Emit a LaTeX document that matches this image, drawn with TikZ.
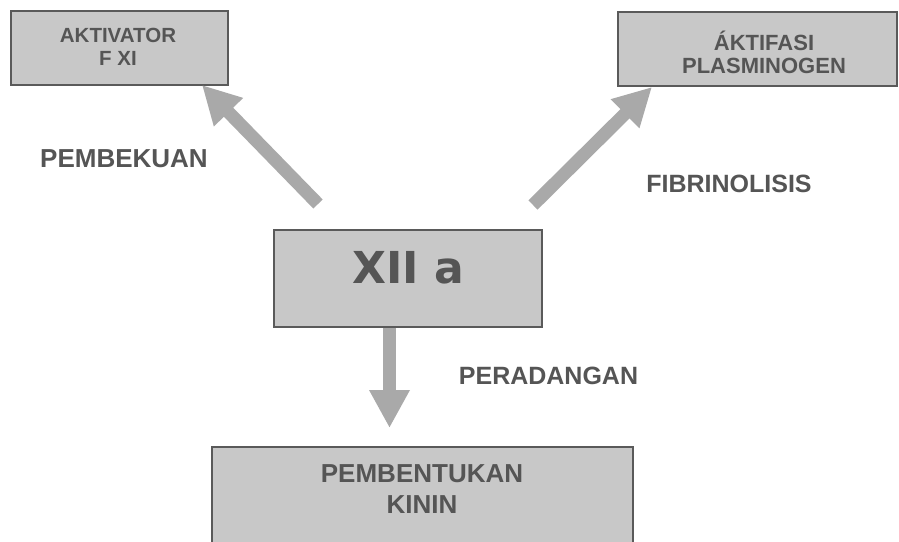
\documentclass[tikz,border=0pt]{standalone}
\usepackage{fontspec}
\setmainfont{Liberation Sans}
\newfontfamily\dvfont{DejaVu Sans}
\usetikzlibrary{arrows.meta}
\definecolor{boxfill}{HTML}{C8C8C8}
\definecolor{boxline}{HTML}{5A5A5A}
\definecolor{txt}{HTML}{555555}
\definecolor{arr}{HTML}{A9A9A9}
\tikzset{
  box/.style={draw=boxline, line width=1.5pt, fill=boxfill, inner sep=0pt},
  lbl/.style={text=txt, font=\bfseries\fontsize{26}{26}\selectfont, inner sep=0pt, anchor=base},
  boxtxt/.style={text=txt, align=center, inner sep=0pt},
  bigarrow/.style={draw=arr, line width=13pt, -{Triangle[width=38pt,length=38pt]}, shorten <=0pt}
}
\begin{document}
\begin{tikzpicture}[x=1pt,y=-1pt]
\useasboundingbox (0,0) rectangle (899,541);
\fill[white] (0,0) rectangle (899,541);
% boxes
\node[box, minimum width=217pt, minimum height=74pt] (fxi) at (119.5,48) {};
\node[boxtxt, font=\bfseries\fontsize{20.5}{23}\selectfont, anchor=base] (fxit) at (118,65) {AKTIVATOR\\F XI};
\node[box, minimum width=279pt, minimum height=74pt] (plas) at (757.5,49) {};
\node[boxtxt, font=\bfseries\fontsize{22}{23}\selectfont, anchor=base] (plast) at (764,73) {ÁKTIFASI\\PLASMINOGEN};
\node[box, minimum width=268pt, minimum height=97pt] (xii) at (408,278.5) {};
\node[text=txt, inner sep=0pt, anchor=base, font=\dvfont\bfseries\fontsize{44}{44}\selectfont] (xiit) at (408,283) {XII a};
\node[box, minimum width=421pt, minimum height=110pt] (kin) at (422.5,502) {};
\node[boxtxt, font=\bfseries\fontsize{26}{31}\selectfont, anchor=base] (kint) at (422,513) {PEMBENTUKAN\\KININ};
% labels
\node[lbl] (pemb) at (124,167) {PEMBEKUAN};
\node[lbl, font=\bfseries\fontsize{25}{25}\selectfont] (fibr) at (729,192) {FIBRINOLISIS};
\node[lbl, font=\bfseries\fontsize{25}{25}\selectfont] (pera) at (548.5,384) {PERADANGAN};
% arrows
\coordinate (a1s) at (318,204);
\coordinate (a1e) at (202,85);
\coordinate (a2s) at (533,205);
\coordinate (a2e) at (652,87);
\coordinate (a3e) at (389.5,428);
\draw[bigarrow] (a1s) -- (a1e);
\draw[bigarrow] (a2s) -- (a2e);
\draw[bigarrow] (xii.south -| a3e) -- (a3e);
\end{tikzpicture}
\end{document}
